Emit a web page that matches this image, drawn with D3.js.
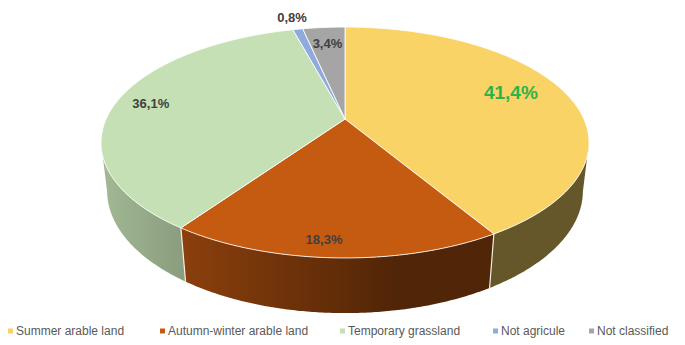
<!DOCTYPE html>
<html>
<head>
<meta charset="utf-8">
<script src="https://cdn.jsdelivr.net/npm/d3@7/dist/d3.min.js"></script>
<style>
  html, body { margin: 0; padding: 0; background: #ffffff; }
  svg { display: block; }
  text { font-family: "Liberation Sans", Arial, sans-serif; }
</style>
</head>
<body>
<svg id="chart" width="685" height="345"></svg>
<script>
// Land-use shares (percent), clockwise from 12 o'clock
const categories = ["Summer arable land", "Autumn-winter arable land", "Temporary grassland", "Not agricule", "Not classified"];
const shares = [41.4, 18.3, 36.1, 0.8, 3.4];
const shareLabels = ["41,4%", "18,3%", "36,1%", "0,8%", "3,4%"];
const sliceColors = ["#f9d366", "#c55a11", "#c5e0b4", "#8faadc", "#a5a5a5"];

const svg = d3.select("#chart");
const defs = svg.append("defs");

// Perspective camera for the tilted disc
const view = {
  cx: 345, cy: 119,        // screen position of the disc centre
  k: 1040,                 // focal scale
  dist: 4.354,             // camera distance (disc radius = 1)
  elev: Math.asin(0.4633), // tilt
  thick: 0.23              // disc thickness
};
const sE = Math.sin(view.elev), cE = Math.cos(view.elev);

// angle (clockwise from top), radius, height -> screen point
function project(a, r, z) {
  const X = r * Math.sin(a), Y = r * Math.cos(a);
  const u = X, v = Y * sE + z * cE, w = view.dist + Y * cE - z * sE;
  return [view.cx + view.k * u / w, view.cy - view.k * v / w];
}

const color = d3.scaleOrdinal().domain(categories).range(sliceColors);
const pie = d3.pie().sort(null).value(d => d.value).startAngle(0).endAngle(2 * Math.PI);
const data = categories.map((c, i) => ({ name: c, value: shares[i], label: shareLabels[i] }));
const arcs = pie(data);

const line = d3.line();
const step = Math.PI / 360;

// angular range of the wall that faces the viewer (between the side silhouettes)
const silhouette = Math.PI - Math.acos(view.dist ? 1 / (view.dist / cE) : 0);
const wallFrom = silhouette, wallTo = 2 * Math.PI - silhouette;

// wall shading: light from the left
const lightAngle = 260 * Math.PI / 180;
const shade = a => 0.41 + 0.42 * Math.max(0, Math.cos(a - lightAngle));
function shaded(hex, f) {
  const c = d3.rgb(hex);
  return d3.rgb(c.r * f, c.g * f, c.b * f).formatHex();
}

function samples(a0, a1) {
  const n = Math.max(2, Math.ceil((a1 - a0) / step));
  return d3.range(n + 1).map(i => a0 + (a1 - a0) * i / n);
}

// front wall, one shaded piece per slice
const gWall = svg.append("g");
arcs.forEach((d, i) => {
  const a0 = Math.max(d.startAngle, wallFrom), a1 = Math.min(d.endAngle, wallTo);
  if (a1 <= a0) return;
  const angs = samples(a0, a1);
  const topPts = angs.map(a => project(a, 1, 0));
  const botPts = angs.map(a => project(a, 1, -view.thick)).reverse();
  const xs = topPts.map(p => p[0]);
  const xMin = d3.min(xs), xMax = d3.max(xs);
  const grad = defs.append("linearGradient")
    .attr("id", "wall" + i)
    .attr("gradientUnits", "userSpaceOnUse")
    .attr("x1", xMin).attr("x2", xMax).attr("y1", 0).attr("y2", 0);
  angs.filter((a, j) => j % 6 === 0 || j === angs.length - 1).forEach(a => {
    const x = project(a, 1, 0)[0];
    grad.append("stop")
      .attr("offset", xMax > xMin ? (x - xMin) / (xMax - xMin) : 0)
      .attr("stop-color", shaded(color(d.data.name), shade(a)));
  });
  // stops must ascend in offset
  const stops = grad.selectAll("stop").nodes()
    .sort((p, q) => +p.getAttribute("offset") - +q.getAttribute("offset"));
  stops.forEach(s => grad.node().appendChild(s));
  gWall.append("path")
    .attr("d", line(topPts.concat(botPts)) + "Z")
    .attr("fill", `url(#wall${i})`);
});

// light seams where slices meet on the front wall
const gSeam = svg.append("g");
arcs.forEach(d => {
  const a = d.startAngle;
  if (a > wallFrom && a < wallTo) {
    const top = project(a, 1, 0), bot = project(a, 1, -view.thick);
    gSeam.append("line")
      .attr("x1", top[0]).attr("y1", top[1])
      .attr("x2", bot[0]).attr("y2", bot[1])
      .attr("stroke", "#f3ece0").attr("stroke-width", 1.2);
  }
});

// top faces
function topPath(d) {
  const pts = [project(0, 0, 0)].concat(samples(d.startAngle, d.endAngle).map(a => project(a, 1, 0)));
  return line(pts) + "Z";
}
svg.append("g").selectAll("path").data(arcs).join("path")
  .attr("d", topPath)
  .attr("fill", d => color(d.data.name))
  .attr("stroke", "#ffffff")
  .attr("stroke-opacity", 0.85)
  .attr("stroke-width", 1)
  .attr("stroke-linejoin", "round");

// value labels
const labelStyle = [
  { r: 0.75, size: 19, fill: "#2fb24c", dy: -5 },
  { r: 0.89, size: 13, fill: "#404040", dy: 0, dx: -12 },
  { r: 0.85, size: 13, fill: "#404040", dy: 0 },
  { r: 1.15, size: 13, fill: "#404040", dy: -1 },
  { r: 0.80, size: 13, fill: "#404040", dy: 0 }
];
svg.append("g").selectAll("text").data(arcs).join("text")
  .each(function (d, i) {
    const st = labelStyle[i];
    const p = project((d.startAngle + d.endAngle) / 2, st.r, 0);
    d3.select(this)
      .attr("x", p[0] + (st.dx || 0))
      .attr("y", p[1] + st.dy)
      .attr("font-size", st.size)
      .attr("fill", st.fill);
  })
  .attr("text-anchor", "middle")
  .attr("dominant-baseline", "central")
  .attr("font-weight", "bold")
  .text(d => d.data.label);

// legend
const legendX = [8, 160, 340, 493, 589];
const legend = svg.append("g").attr("transform", "translate(0,331)");
const items = legend.selectAll("g").data(categories).join("g")
  .attr("transform", (d, i) => `translate(${legendX[i]},0)`);
items.append("rect")
  .attr("x", 0).attr("y", -2.5).attr("width", 5).attr("height", 5)
  .attr("fill", d => color(d));
items.append("text")
  .attr("x", 8).attr("y", 0)
  .attr("dominant-baseline", "central")
  .attr("font-size", 12)
  .attr("fill", "#595959")
  .text(d => d);
</script>
</body>
</html>
